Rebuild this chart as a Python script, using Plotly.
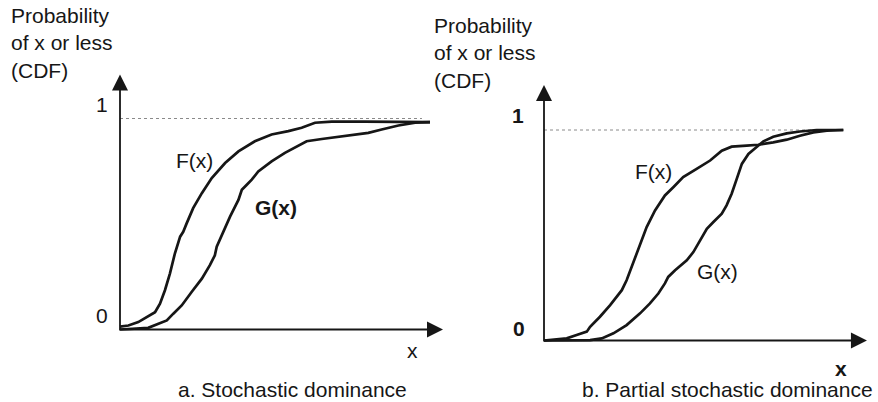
import plotly.graph_objects as go

# ---------------- data (in each panel's own units: x 0..10, CDF 0..1) -------------
# Panel a: Stochastic dominance
a_F_x = [0.00, 0.27, 0.59, 0.86, 1.13, 1.29, 1.45, 1.61, 1.77, 1.94, 2.04, 2.15, 2.36,
         2.64, 2.96, 3.39, 3.82, 4.35, 4.89, 5.43, 5.86, 6.29, 6.83, 7.90, 10.0]
a_F_y = [0.014, 0.019, 0.035, 0.059, 0.082, 0.122, 0.186, 0.265, 0.360, 0.440, 0.463, 0.503,
         0.575, 0.646, 0.718, 0.789, 0.844, 0.892, 0.924, 0.940, 0.956, 0.980, 0.985, 0.985, 0.983]
a_G_x = [0.00, 0.48, 0.91, 1.24, 1.51, 1.72, 1.99, 2.31, 2.64, 2.90, 3.06, 3.12, 3.28, 3.55,
         3.82, 3.93, 4.09, 4.25, 4.46, 4.89, 5.32, 5.70, 6.02, 6.51, 7.36, 8.01, 8.44, 8.98,
         9.52, 10.0]
a_G_y = [0.000, 0.003, 0.008, 0.027, 0.043, 0.075, 0.114, 0.178, 0.241, 0.305, 0.352, 0.392,
         0.448, 0.535, 0.614, 0.662, 0.686, 0.710, 0.749, 0.797, 0.837, 0.868, 0.892, 0.903,
         0.919, 0.932, 0.948, 0.967, 0.980, 0.983]

# Panel b: Partial stochastic dominance
b_F_x = [0.00, 0.76, 1.09, 1.43, 1.54, 1.87, 2.21, 2.60, 2.76, 2.93, 3.10, 3.21, 3.43, 3.71,
         4.04, 4.32, 4.65, 5.10, 5.55, 5.94, 6.27, 6.77, 7.16, 7.66, 8.11, 8.55, 9.00, 9.45, 10.0]
b_F_y = [0.000, 0.010, 0.026, 0.042, 0.065, 0.113, 0.168, 0.239, 0.286, 0.349, 0.413, 0.460,
         0.539, 0.618, 0.689, 0.728, 0.776, 0.815, 0.855, 0.902, 0.921, 0.926, 0.930, 0.941,
         0.954, 0.973, 0.989, 0.997, 1.000]
b_G_x = [0.00, 1.54, 1.93, 2.32, 2.76, 3.21, 3.54, 3.82, 4.04, 4.15, 4.38, 4.77, 4.99, 5.21,
         5.44, 5.66, 5.94, 6.10, 6.27, 6.44, 6.61, 6.83, 7.11, 7.33, 7.66, 8.11, 8.55, 9.11, 10.0]
b_G_y = [0.000, 0.002, 0.010, 0.034, 0.073, 0.129, 0.176, 0.223, 0.271, 0.302, 0.334, 0.381,
         0.420, 0.476, 0.531, 0.563, 0.602, 0.642, 0.697, 0.768, 0.839, 0.886, 0.921, 0.946,
         0.968, 0.984, 0.993, 1.000, 1.000]

panel_titles = ["a. Stochastic dominance", "b. Partial stochastic dominance"]
y_title = "Probability<br>of x or less<br>(CDF)"
tick_labels = ["0", "1"]
x_label = "x"

# ---------------- layout constants ----------------
W, H = 878, 402
FONT = "Arial, 'Liberation Sans', Helvetica, sans-serif"
INK = "#161616"
CURVE_W = 2.7
AXIS_W = 1.8

# per-panel geometry (axis extents in data units)
panels = [
    dict(xa="x", ya="y", F=(a_F_x, a_F_y), G=(a_G_x, a_G_y),
         x_dom=[0, 450 / W], x_rng=[-3.871, 10.645], y_rng=[-0.3436, 1.5616],
         y_top=1.2085, x_right=10.42, dot_end=9.74, bold=False,
         F_lab=(2.40, 0.799), G_lab=(5.03, 0.578), G_bold=True,
         t1=(-18, 14), t0=(-18, 14), xl=(9.45, -20.5),
         title=(292 / W, 1 - 389 / H), ylab=(9 / W, 1 - 43.3 / H)),
    dict(xa="x2", ya="y2", F=(b_F_x, b_F_y), G=(b_G_x, b_G_y),
         x_dom=[450 / W, 1], x_rng=[-3.1407, 11.1594], y_rng=[-0.2922, 1.6176],
         y_top=1.2138, x_right=10.79, dot_end=10.0, bold=True,
         F_lab=(3.675, 0.803), G_lab=(5.80, 0.328), G_bold=False,
         t1=(-26, 14.5), t0=(-25, 12), xl=(9.92, -28.5),
         title=(727 / W, 1 - 389 / H), ylab=(432 / W, 1 - 53.3 / H)),
]

fig = go.Figure()
annotations = []

for i, p in enumerate(panels):
    xa, ya = p["xa"], p["ya"]
    # dotted line at CDF = 1
    fig.add_trace(go.Scatter(x=[0, p["dot_end"]], y=[1, 1], mode="lines",
                             line=dict(color="#8a8a8a", width=1, dash="dot"),
                             xaxis=xa, yaxis=ya, hoverinfo="skip", showlegend=False))
    # axes
    fig.add_trace(go.Scatter(x=[0, 0, p["x_right"] - 0.3], y=[p["y_top"] - 0.04, 0, 0],
                             mode="lines", line=dict(color=INK, width=AXIS_W),
                             xaxis=xa, yaxis=ya, hoverinfo="skip", showlegend=False))
    fig.add_trace(go.Scatter(x=[0], y=[p["y_top"]], mode="markers",
                             marker=dict(symbol="arrow-up", size=16, color=INK,
                                         line=dict(width=0)),
                             cliponaxis=False, xaxis=xa, yaxis=ya,
                             hoverinfo="skip", showlegend=False))
    fig.add_trace(go.Scatter(x=[p["x_right"]], y=[0], mode="markers",
                             marker=dict(symbol="arrow-right", size=16, color=INK,
                                         line=dict(width=0)),
                             cliponaxis=False, xaxis=xa, yaxis=ya,
                             hoverinfo="skip", showlegend=False))
    # curves
    for key in ("F", "G"):
        xs, ys = p[key]
        fig.add_trace(go.Scatter(x=xs, y=ys, mode="lines", name=key + "(x)",
                                 line=dict(color=INK, width=CURVE_W),
                                 xaxis=xa, yaxis=ya, showlegend=False))

    def b(s, on):
        return "<b>" + s + "</b>" if on else s

    C = dict(showarrow=False, xanchor="center", yanchor="middle")
    # tick labels 0 and 1
    annotations.append(dict(x=0, y=1, xref=xa, yref=ya, text=b(tick_labels[1], p["bold"]),
                            xshift=p["t1"][0], yshift=p["t1"][1], **C))
    annotations.append(dict(x=0, y=0, xref=xa, yref=ya, text=b(tick_labels[0], p["bold"]),
                            xshift=p["t0"][0], yshift=p["t0"][1], **C))
    # x label
    annotations.append(dict(x=p["xl"][0], y=0, xref=xa, yref=ya, text=b(x_label, p["bold"]),
                            yshift=p["xl"][1], **C))
    # curve labels
    annotations.append(dict(x=p["F_lab"][0], y=p["F_lab"][1], xref=xa, yref=ya,
                            text="F(x)", **C))
    annotations.append(dict(x=p["G_lab"][0], y=p["G_lab"][1], xref=xa, yref=ya,
                            text=b("G(x)", p["G_bold"]), **C))
    # panel title
    annotations.append(dict(x=p["title"][0], y=p["title"][1], xref="paper", yref="paper",
                            text=panel_titles[i], borderpad=0, **C))
    # y-axis title
    annotations.append(dict(x=p["ylab"][0], y=p["ylab"][1], xref="paper", yref="paper",
                            text=y_title, showarrow=False, align="left",
                            xanchor="left", yanchor="middle"))

axis_common = dict(visible=False, showgrid=False, zeroline=False, fixedrange=True)
fig.update_layout(
    width=W, height=H,
    margin=dict(l=0, r=0, t=0, b=0),
    paper_bgcolor="white", plot_bgcolor="rgba(0,0,0,0)",
    font=dict(family=FONT, size=21, color=INK),
    xaxis=dict(domain=panels[0]["x_dom"], range=panels[0]["x_rng"], **axis_common),
    yaxis=dict(domain=[0, 1], range=panels[0]["y_rng"], **axis_common),
    xaxis2=dict(domain=panels[1]["x_dom"], range=panels[1]["x_rng"], **axis_common),
    yaxis2=dict(domain=[0, 1], range=panels[1]["y_rng"], anchor="x2", **axis_common),
    annotations=annotations,
    showlegend=False,
)

fig.write_html("out.html", config={"displayModeBar": False})
